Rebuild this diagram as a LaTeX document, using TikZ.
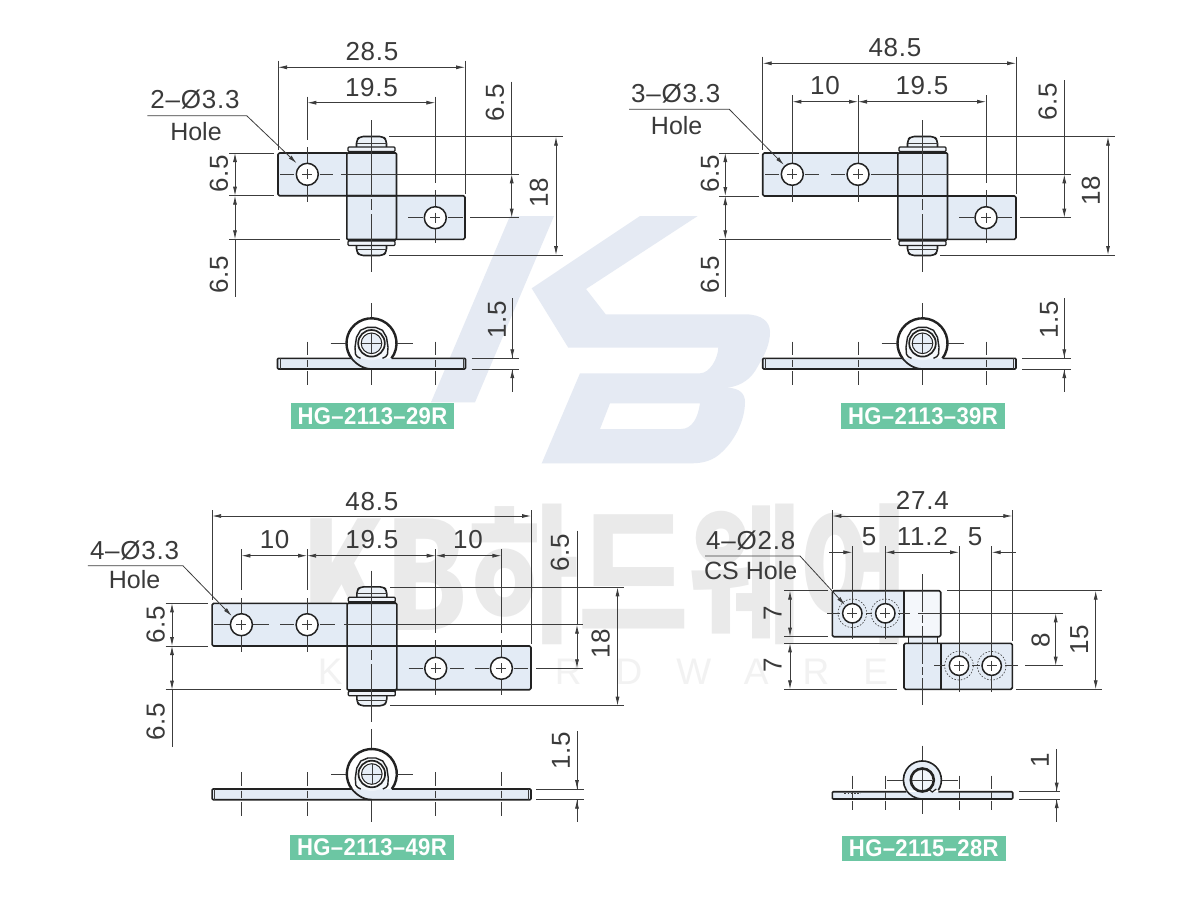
\documentclass[tikz,border=0pt]{standalone}
\usepackage{fontspec}
\setmainfont{Liberation Sans}
\newfontfamily\dimf[LetterSpace=3]{Liberation Sans}
\newfontfamily\tagf[FakeStretch=.92,LetterSpace=1.5]{Liberation Sans}
\newfontfamily\cjkf{Noto Sans CJK KR}
\newfontfamily\wmf[LetterSpace=92]{Liberation Sans}
\usetikzlibrary{arrows.meta}
\definecolor{ink}{HTML}{222222}
\definecolor{txt}{HTML}{3A3A3A}
\definecolor{dimc}{HTML}{3C3C3C}
\definecolor{plate}{HTML}{DDE7F3}
\definecolor{tagc}{HTML}{6CC6A3}
\definecolor{wmblue}{HTML}{E5EAF3}
\definecolor{wmgray}{HTML}{EAEAEA}
\definecolor{wmpale}{HTML}{F2F2F2}
\tikzset{
  >={Latex[length=9pt,width=4pt]},
  dimt/.style={inner sep=0pt,text=txt,font=\fontsize{26}{28}\selectfont\dimf},
  labt/.style={inner sep=0pt,text=txt,font=\fontsize{25}{28}\selectfont},
  dimline/.style={draw=dimc,line width=0.8pt},
  cl/.style={draw=dimc,line width=0.8pt},
  outl/.style={draw=ink,line width=1.6pt,line join=round},
  platefill/.style={fill=plate,fill opacity=.8},
  holeo/.style={draw=ink,line width=1.5pt,fill=white},
  cross/.style={draw=dimc,line width=0.6pt},
  tagbox/.style={fill=tagc,text=white,inner sep=0pt,font=\fontsize{24}{26}\selectfont\bfseries\tagf},
  csk/.style={draw=dimc,line width=0.6pt,dash pattern=on 1.6pt off 1.6pt}
}
% hole with small cross
\newcommand\hingehole[3]{%
  \draw[holeo] (#1,#2) circle (#3);
  \draw[cross] (#1-5,#2)--(#1+5,#2) (#1,#2-5)--(#1,#2+5);
}
% barrel, flanges and pin: centre x, barrel top y
\newcommand\hingebarrel[2]{%
  \begin{scope}[shift={(#1,#2)}]
    \fill[white] (-24.7,0) rectangle (25,86.5);
    \path[platefill] (-24.7,0) rectangle (25,86.5);
    \draw[outl,rounded corners=1pt] (-24.7,0) rectangle (25,86.5);
    \draw[outl,fill=plate!55,rounded corners=3.5pt] (-15,-5) -- (-15,-13) -- (-11.5,-16.5) -- (11.5,-16.5) -- (15,-13) -- (15,-5);
    \draw[outl,fill=plate!55,rounded corners=3.5pt] (-15,91.5) -- (-15,99) -- (-11.5,102.5) -- (11.5,102.5) -- (15,99) -- (15,91.5);
    \draw[dimc,line width=.6pt] (-15,-10)--(15,-10) (-15,96.5)--(15,96.5);
    \draw[outl,line width=1.3pt,fill=plate!45,rounded corners=1pt] (-23.5,-6) rectangle (23.5,-1.5);
    \draw[outl,line width=1.3pt,fill=plate!45,rounded corners=1pt] (-23.5,88) rectangle (23.5,92.5);
    \draw[ink,line width=2pt] (-24,-0.5)--(24,-0.5) (-24,87.2)--(24,87.2);
  \end{scope}
}
% end-on view, 6.5 series: centre x, centre y, plate left and right offsets
\newcommand\hingeside[4]{%
  \begin{scope}[shift={(#1,#2)},y=1pt]
    \fill[white] (#3,-15) rectangle (#4,-25.7);
    \path[platefill] (#3,-15) rectangle (#4,-25.7);
    \draw[outl,rounded corners=1pt] (-20,-15) -- (#3,-15) -- (#3,-25.7) -- (#4,-25.7) -- (#4,-15) -- (20,-15);
    \draw[dimc,line width=.7pt] (#3+2.5,-15)--(#3+2.5,-25.7) (#4-2.5,-15)--(#4-2.5,-25.7);
    \fill[white] (-20,-15) -- (20,-15) arc[start angle=-36.9,end angle=216.9,radius=25];
    \fill[plate!50] (0,0) circle (17);
    \draw[ink,line width=2.4pt] (20,-15) arc[start angle=-36.9,end angle=216.9,radius=25];
    \draw[ink,line width=1.7pt] (-20,-15) .. controls (-16,-20) and (-9,-25.7) .. (0,-25.7);
    % C clip with lugs
    \draw[ink,line width=1.4pt,fill=plate!30] (-11,-15) .. controls (-13,-13) and (-16,-14) .. (-16,-11)
       -- (-16.5,-4) -- (-15,6) -- (-11,13) -- (-4,16) -- (4,16) -- (11,13) -- (15,6) -- (16.5,-4) -- (16,-11)
       .. controls (16,-14) and (13,-13) .. (11,-15);
    \draw[ink,line width=1.7pt,fill=white] (0,0) circle (13.3);
    \draw[ink,line width=1pt,fill=plate!70] (0,0) circle (10.3);
    \draw[dimc,line width=.5pt] (-10,0)--(10,0) (0,-10)--(0,10);
  \end{scope}
}
\newcommand\sidecl[3]{% x, centre y, top offset
  \draw[cl] (#1,#2-#3)--(#1,#2+12) (#1,#2+16.5)--(#1,#2+23.5) (#1,#2+28)--(#1,#2+41.7);
}
\begin{document}
\begin{tikzpicture}[x=1pt,y=-1pt]
\useasboundingbox (0,0) rectangle (1200,900);
\fill[white] (0,0) rectangle (1200,900);
% ---------- watermark
\fill[wmblue] (510,216)--(554,216)--(475,402.3)--(431,402.3)--cycle;
\fill[wmblue,even odd rule] (640,216)--(697.7,216)--(586,289)--(605.7,314.3)--(745,314.3)
  .. controls (762,314.3) and (770,322) .. (770,332)
  .. controls (770,345) and (764,356) .. (758,366)
  .. controls (752,378) and (742,386) .. (727,387.7)
  .. controls (740,388) and (745,394) .. (745,402)
  .. controls (745,420) and (735,440) .. (722,452)
  .. controls (714,460) and (704,463.3) .. (692,463.3)
  -- (541.7,463.3)--(580,373.3)--(700,373.3)
  .. controls (710,373.3) and (718,358) .. (718.3,347.7)
  -- (568.3,347.7)--(531.7,288.3)--cycle
  (610,403.3)--(700,403.3) .. controls (698,418) and (692,429) .. (681,429) -- (600,429)--cycle;
\node[inner sep=0pt,text=wmgray,xscale=.8,font=\fontsize{150}{150}\selectfont\cjkf\bfseries] (wmk) at (605,574) {KB하드웨어};
\node[inner sep=0pt,text=wmpale,font=\fontsize{37}{40}\selectfont\wmf] (wme) at (603,672) {KBHARDWARE};

% ---------- HG-2113-29R
\fill[white] (278,153) rectangle (347,195.7);
\path[platefill] (278,153) rectangle (347,195.7);
\fill[white] (396,195.7) rectangle (465,239.3);
\path[platefill] (396,195.7) rectangle (465,239.3);
\hingebarrel{371.5}{153}
\draw[outl,rounded corners=1.5pt] (347,153)--(278,153)--(278,195.7)--(396,195.7);
\draw[outl,rounded corners=1.5pt] (347,195.7)--(465,195.7)--(465,239.3)--(396,239.3);
\draw[dimline] (278,60.7)--(278,150) (465,60.7)--(465,194);
\draw[dimline,<->] (278,67.3)--(465,67.3);
\draw[dimline] (307.3,96.7)--(307.3,140) (307.3,147)--(307.3,201.7) (435.3,96.7)--(435.3,183) (435.3,190)--(435.3,243);
\draw[dimline,<->] (307.3,102.7)--(435.3,102.7);
\draw[cl] (280,174.3)--(294,174.3) (320,174.3)--(333,174.3) (341,174.3)--(519,174.3);
\draw[cl] (408,217.7)--(423,217.7) (448,217.7)--(463,217.7) (470,217.7)--(519,217.7);
\draw[cl] (371.5,120)--(371.5,196) (371.5,199)--(371.5,210) (371.5,214)--(371.5,271.7);
\draw[dimline] (511.7,81.7)--(511.7,174.3);
\draw[dimline,<->] (511.7,174.3)--(511.7,217.7);
\draw[dimline] (389,136.7)--(562.7,136.7) (389,255)--(562.7,255);
\draw[dimline,<->] (556,136.7)--(556,255);
\draw[dimline] (229,153)--(274,153) (229,195.7)--(274,195.7) (229,239.3)--(340,239.3) (235,239.3)--(235,296.7);
\draw[dimline,<->] (235,153)--(235,195.7);
\draw[dimline,<->] (235,195.7)--(235,239.3);
\hingehole{307.3}{174.3}{11}
\hingehole{435.3}{217.7}{11}
\draw[dimline,-{Latex[length=9pt,width=4pt]}] (147.3,115.7)--(246.7,115.7)--(296.7,163.3);
\node[dimt] (a1) at (372,52) {28.5};
\node[dimt] (a2) at (371.5,88) {19.5};
\node[dimt] (a3) at (195,100) {2–Ø3.3};
\node[labt] (a4) at (196,131.5) {Hole};
\node[dimt,rotate=90] (a5) at (495,103) {6.5};
\node[dimt,rotate=90] (a6) at (539,193) {18};
\node[dimt,rotate=90] (a7) at (219,174) {6.5};
\node[dimt,rotate=90] (a8) at (219,275) {6.5};
% end view
\hingeside{371.5}{343.3}{-94}{94}
\draw[cl] (371.5,303)--(371.5,317) (371.5,370)--(371.5,385) (330.7,343.3)--(346,343.3) (397,343.3)--(412.7,343.3);
\sidecl{307.3}{343.3}{1.6}
\sidecl{435.3}{343.3}{1.6}
\draw[dimline] (512.3,298)--(512.3,358.3) (512.3,369)--(512.3,391.7) (471.7,358.3)--(519,358.3) (471.7,369)--(519,369);
\draw[dimline,->] (512.3,340)--(512.3,358.3);
\draw[dimline,->] (512.3,388)--(512.3,369);
\node[dimt,rotate=90] (a9) at (497,320) {1.5};
\node[tagbox,minimum width=163.6pt,minimum height=25.4pt] (a10) at (372.5,416) {HG–2113–29R};

% ---------- HG-2113-39R
\fill[white] (762.7,153) rectangle (898,196);
\path[platefill] (762.7,153) rectangle (898,196);
\fill[white] (947,196) rectangle (1016,239.3);
\path[platefill] (947,196) rectangle (1016,239.3);
\hingebarrel{922.5}{153}
\draw[outl,rounded corners=1.5pt] (898,153)--(762.7,153)--(762.7,196)--(947,196);
\draw[outl,rounded corners=1.5pt] (898,196)--(1016,196)--(1016,239.3)--(947,239.3);
\draw[dimline] (762.7,56.7)--(762.7,150) (1016,56.7)--(1016,194);
\draw[dimline,<->] (762.7,63.3)--(1016,63.3);
\draw[dimline] (792.3,95)--(792.3,147) (792.3,147)--(792.3,201.7) (858,95)--(858,201.7) (986,95)--(986,183) (986,190)--(986,243);
\draw[dimline,<->] (792.3,101.7)--(858,101.7);
\draw[dimline,<->] (858,101.7)--(986,101.7);
\draw[cl] (765,174.3)--(779,174.3) (805,174.3)--(819,174.3) (831,174.3)--(845,174.3) (871,174.3)--(1071,174.3);
\draw[cl] (959,217.7)--(974,217.7) (998,217.7)--(1012,217.7) (1020,217.7)--(1071,217.7);
\draw[cl] (922.3,120)--(922.3,196) (922.3,199)--(922.3,210) (922.3,214)--(922.3,271.7);
\draw[dimline] (1064.3,80)--(1064.3,174.3);
\draw[dimline,<->] (1064.3,174.3)--(1064.3,217.7);
\draw[dimline] (940,136.7)--(1115,136.7) (940,255)--(1115,255);
\draw[dimline,<->] (1108,136.7)--(1108,255);
\draw[dimline] (719.3,153)--(759.3,153) (719.3,196)--(759.3,196) (719.3,239.3)--(890.7,239.3) (725.3,239.3)--(725.3,296.7);
\draw[dimline,<->] (725.3,153)--(725.3,196);
\draw[dimline,<->] (725.3,196)--(725.3,239.3);
\hingehole{792.3}{174.3}{11}
\hingehole{858}{174.3}{11}
\hingehole{986}{217.7}{11}
\draw[dimline,-{Latex[length=9pt,width=4pt]}] (629,109.3)--(729.3,109.3)--(784,165);
\node[dimt] (b1) at (895,48) {48.5};
\node[dimt] (b2) at (825,86) {10};
\node[dimt] (b3) at (922,86) {19.5};
\node[dimt] (b4) at (675.7,94) {3–Ø3.3};
\node[labt] (b5) at (676.7,126) {Hole};
\node[dimt,rotate=90] (b6) at (1047.7,101.7) {6.5};
\node[dimt,rotate=90] (b7) at (1091,191) {18};
\node[dimt,rotate=90] (b8) at (710,174) {6.5};
\node[dimt,rotate=90] (b9) at (710,275) {6.5};
\hingeside{922.5}{343.3}{-159.8}{93.5}
\draw[cl] (922.5,303)--(922.5,317) (922.5,370)--(922.5,385) (881.5,343.3)--(897,343.3) (948,343.3)--(963.5,343.3);
\sidecl{792.3}{343.3}{1.6}
\sidecl{858}{343.3}{1.6}
\sidecl{986}{343.3}{1.6}
\draw[dimline] (1064.3,298)--(1064.3,358.3) (1064.3,369)--(1064.3,391.7) (1022,358.3)--(1071,358.3) (1022,369)--(1071,369);
\draw[dimline,->] (1064.3,340)--(1064.3,358.3);
\draw[dimline,->] (1064.3,388)--(1064.3,369);
\node[dimt,rotate=90] (b10) at (1049,320) {1.5};
\node[tagbox,minimum width=164pt,minimum height=25.4pt] (b11) at (923,416) {HG–2113–39R};

% ---------- HG-2113-49R
\fill[white] (212.1,603.3) rectangle (347,646);
\path[platefill] (212.1,603.3) rectangle (347,646);
\fill[white] (396,646) rectangle (531,689.7);
\path[platefill] (396,646) rectangle (531,689.7);
\hingebarrel{371.8}{603.3}
\draw[outl,rounded corners=1.5pt] (347,603.3)--(212.1,603.3)--(212.1,646)--(396,646);
\draw[outl,rounded corners=1.5pt] (347,646)--(531,646)--(531,689.7)--(396,689.7);
\draw[dimline] (212.1,510)--(212.1,600) (531,510)--(531,644);
\draw[dimline,<->] (212.1,516)--(531,516);
\draw[dimline] (241.4,549.3)--(241.4,590) (241.4,598)--(241.4,652.3) (307.1,549.3)--(307.1,590) (307.1,598)--(307.1,652.3)
 (435.7,549.3)--(435.7,633) (435.7,640)--(435.7,695) (501.4,549.3)--(501.4,633) (501.4,640)--(501.4,695);
\draw[dimline,<->] (241.4,555.7)--(307.1,555.7);
\draw[dimline,<->] (307.1,555.7)--(435.7,555.7);
\draw[dimline,<->] (435.7,555.7)--(501.4,555.7);
\draw[cl] (214,624.7)--(230,624.7) (252,624.7)--(269,624.7) (280,624.7)--(294,624.7) (320,624.7)--(335,624.7) (344,624.7)--(583,624.7);
\draw[cl] (408.6,668.3)--(423,668.3) (450,668.3)--(464,668.3) (474.6,668.3)--(489,668.3) (514,668.3)--(528,668.3) (536,668.3)--(583,668.3);
\draw[cl] (371.8,570.7)--(371.8,646) (371.8,650)--(371.8,660) (371.8,664)--(371.8,721.7);
\draw[dimline] (577,530.7)--(577,624.7);
\draw[dimline,<->] (577,624.7)--(577,668.3);
\draw[dimline] (390,587.3)--(624,587.3) (390,705.7)--(624,705.7);
\draw[dimline,<->] (617.5,587.3)--(617.5,705.7);
\draw[dimline] (165.7,603.3)--(207.9,603.3) (165.7,646)--(207.9,646) (165.7,689.7)--(340.7,689.7) (172,689.7)--(172,746.7);
\draw[dimline,<->] (172,603.3)--(172,646);
\draw[dimline,<->] (172,646)--(172,689.7);
\hingehole{241.4}{624.7}{11}
\hingehole{307.1}{624.7}{11}
\hingehole{435.7}{668.3}{11}
\hingehole{501.4}{668.3}{11}
\draw[dimline,-{Latex[length=9pt,width=4pt]}] (87.9,565.7)--(182.9,565.7)--(231.8,616);
\node[dimt] (c1) at (371.8,501.7) {48.5};
\node[dimt] (c2) at (274.6,540) {10};
\node[dimt] (c3) at (371.8,540) {19.5};
\node[dimt] (c4) at (468,540) {10};
\node[dimt] (c5) at (134.6,551) {4–Ø3.3};
\node[labt] (c6) at (134.6,580) {Hole};
\node[dimt,rotate=90] (c7) at (560,553) {6.5};
\node[dimt,rotate=90] (c8) at (600.7,644) {18};
\node[dimt,rotate=90] (c9) at (155.7,625) {6.5};
\node[dimt,rotate=90] (c10) at (155.7,721.7) {6.5};
\hingeside{371.8}{774}{-159.7}{159.2}
\draw[cl] (371.8,729)--(371.8,748) (371.8,800)--(371.8,822) (331,774)--(346,774) (397,774)--(413,774);
\sidecl{241.4}{774}{1.6}
\sidecl{307.1}{774}{1.6}
\sidecl{435.7}{774}{1.6}
\sidecl{501.4}{774}{1.6}
\draw[dimline] (577,731)--(577,789) (577,799.7)--(577,822) (536,789)--(584,789) (536,799.7)--(584,799.7);
\draw[dimline,->] (577,772)--(577,789);
\draw[dimline,->] (577,818)--(577,799.7);
\node[dimt,rotate=90] (c11) at (561,751) {1.5};
\node[tagbox,minimum width=164pt,minimum height=25.4pt] (c12) at (372,847.5) {HG–2113–49R};

% ---------- HG-2115-28R
\fill[white] (832.3,590.7) rectangle (904,636.7);
\path[platefill] (832.3,590.7) rectangle (904,636.7);
\fill[white] (904,590.7) rectangle (940.7,636.7);
\path[fill=plate,fill opacity=.3] (904,590.7) rectangle (940.7,636.7);
\path[fill=plate,fill opacity=.6] (908.3,636.7) rectangle (937.3,643.3);
\draw[ink,line width=1.5pt] (908.3,636.7)--(908.3,643.3) (937.3,636.7)--(937.3,643.3);
\fill[white] (904,643.3) rectangle (1012.3,689.3);
\path[platefill] (904,643.3) rectangle (1012.3,689.3);
\draw[outl,rounded corners=1.5pt] (832.3,590.7) rectangle (940.7,636.7);
\draw[outl,rounded corners=1.5pt] (904,643.3) rectangle (1012.3,689.3);
\draw[outl] (904,590.7)--(904,636.7) (940.7,643.3)--(940.7,689.3);
\draw[dimline] (832.3,510)--(832.3,589) (1012.3,510)--(1012.3,641);
\draw[dimline,<->] (832.3,516)--(1012.3,516);
\draw[dimline] (852.3,546)--(852.3,639) (885.3,546)--(885.3,639) (959,546)--(959,691.7) (991.7,546)--(991.7,691.7);
\draw[dimline,->] (829,552.3)--(852.3,552.3);
\draw[dimline,<->] (885.3,552.3)--(959,552.3);
\draw[dimline,<-] (991.7,552.3)--(1015.7,552.3);
\draw[cl] (827,613.3)--(840,613.3) (866,613.3)--(872,613.3) (898,613.3)--(910,613.3) (918,613.3)--(1062.7,613.3);
\draw[cl] (934,665.7)--(945,665.7) (972,665.7)--(980,665.7) (1005,665.7)--(1018,665.7) (1025,665.7)--(1062.7,665.7);
\draw[cl,dash pattern=on 38pt off 3pt on 8pt off 3pt] (922.3,574.3)--(922.3,705);
\draw[dimline,<->] (1055.7,613.3)--(1055.7,665.7);
\draw[dimline] (947,590.7)--(1101.7,590.7) (1016,689.3)--(1101.7,689.3);
\draw[dimline,<->] (1095.7,590.7)--(1095.7,689.3);
\draw[dimline] (784,590.7)--(828,590.7) (784,636.7)--(828,636.7) (784,643.3)--(896.7,643.3) (784,689.3)--(896.7,689.3);
\draw[dimline,<->] (790,590.7)--(790,636.7);
\draw[dimline,<->] (790,643.3)--(790,689.3);
\foreach \hx/\hy in {852.3/613.3,885.3/613.3,959/665.7,991.7/665.7}{
  \draw[csk,fill=none] (\hx,\hy) circle (14.3);
  \hingehole{\hx}{\hy}{9.7}
}
\draw[dimline,-{Latex[length=9pt,width=4pt]}] (705,556)--(800,556)--(845,605);
\node[dimt] (d1) at (922.3,500.7) {27.4};
\node[dimt] (d2) at (869,536.7) {5};
\node[dimt] (d3) at (922.3,536.7) {11.2};
\node[dimt] (d4) at (975,536.7) {5};
\node[dimt] (d5) at (750.7,540.7) {4–Ø2.8};
\node[labt] (d6) at (750.7,571) {CS Hole};
\node[dimt,rotate=90] (d7) at (1040.7,640) {8};
\node[dimt,rotate=90] (d8) at (1079.3,640) {15};
\node[dimt,rotate=90] (d9) at (772.7,613.3) {7};
\node[dimt,rotate=90] (d10) at (772.7,665.7) {7};
% end view
\begin{scope}[shift={(922.3,780)},y=1pt]
  \fill[white] (-90,-11.7) rectangle (90.4,-19);
  \path[platefill] (-90,-11.7) rectangle (90.4,-19);
  \draw[outl,rounded corners=1pt] (-16,-11.7)--(-90,-11.7)--(-90,-19)--(90.4,-19)--(90.4,-11.7)--(16,-11.7);
  \fill[white] (16,-10.3) arc[start angle=-33,end angle=213,radius=19] -- cycle;
  \fill[plate!70] (16,-10.3) arc[start angle=-33,end angle=213,radius=19] -- cycle;
  \draw[ink,line width=1.6pt] (16,-10.3) arc[start angle=-33,end angle=213,radius=19];
  \draw[ink,line width=1.5pt] (-16,-10.3) .. controls (-13,-15) and (-7,-19) .. (0,-19);
  \draw[ink,line width=2.6pt,fill=plate!40] (0,0) circle (11.5);
  \draw[dimc,line width=.5pt] (-10,0)--(10,0) (0,-10)--(0,10);
  \draw[ink,line width=1.2pt] (6,-9)--(10,-12)--(14,-9);
  \draw[csk] (-78,-13.5)--(-62,-13.5);
\end{scope}
\draw[cl] (922.3,745.7)--(922.3,760) (922.3,800)--(922.3,814.3) (886.7,780)--(903,780) (941.5,780)--(957.7,780);
\foreach \sx in {852.3,885.3,959,991.7}{
  \draw[cl] (\sx,775.7)--(\sx,789) (\sx,792)--(\sx,798) (\sx,801)--(\sx,810);
}
\draw[dimline] (1056.7,749.3)--(1056.7,791.7) (1056.7,799)--(1056.7,821.7) (1019,791.7)--(1060,791.7) (1019,799)--(1060,799);
\draw[dimline,->] (1056.7,775)--(1056.7,791.7);
\draw[dimline,->] (1056.7,818)--(1056.7,799);
\node[dimt,rotate=90] (d11) at (1040,760) {1};
\node[tagbox,minimum width=164.3pt,minimum height=25pt] (d12) at (923.8,848.5) {HG–2115–28R};
\end{tikzpicture}
\end{document}
